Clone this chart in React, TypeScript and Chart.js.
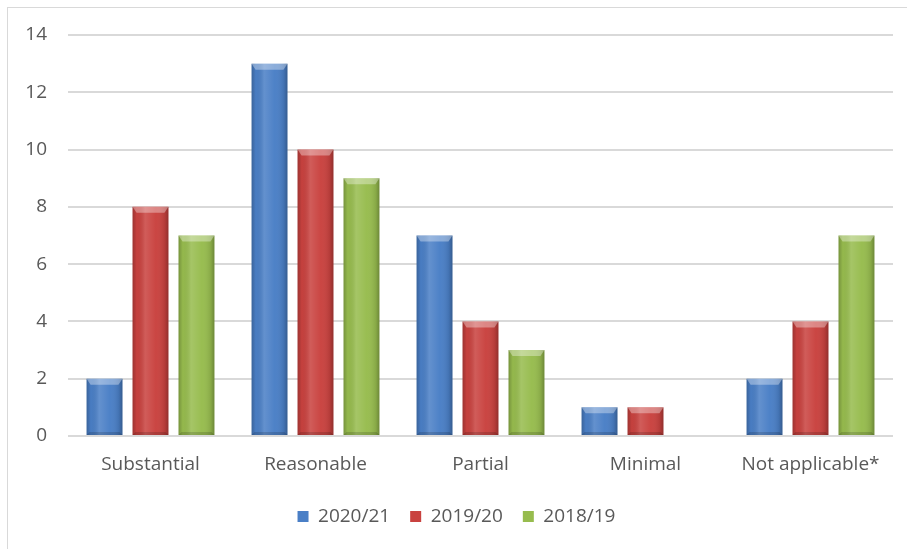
import React, { useEffect, useRef } from "react";
import { Chart, registerables } from "chart.js";

Chart.register(...registerables);

const categories = ["Substantial", "Reasonable", "Partial", "Minimal", "Not applicable*"];
const seriesNames = ["2020/21", "2019/20", "2018/19"];
const values2020 = [2, 13, 7, 1, 2];
const values2019 = [8, 10, 4, 1, 4];
const values2018 = [7, 9, 3, 0, 7];
const yTicks = [0, 2, 4, 6, 8, 10, 12, 14];

const baseColors = ["#4a7fc6", "#c9423f", "#97bc4e"];
const FONT = "'Open Sans', 'Liberation Sans', sans-serif";
const TEXT = "#595959";

const framePlugin = {
  id: "frame",
  beforeDraw(chart: any) {
    const ctx = chart.ctx;
    ctx.save();
    ctx.fillStyle = "#ffffff";
    ctx.fillRect(0, 0, chart.width, chart.height);
    ctx.strokeStyle = "#d9d9d9";
    ctx.lineWidth = 1;
    ctx.strokeRect(7.5, 7.5, chart.width + 20, chart.height + 20);
    ctx.restore();
  },
};

const bevelPlugin = {
  id: "bevel",
  afterDatasetsDraw(chart: any) {
    const ctx = chart.ctx;
    ctx.save();
    chart.data.datasets.forEach((_: any, di: number) => {
      const meta = chart.getDatasetMeta(di);
      meta.data.forEach((el: any) => {
        const { x, y, base, width } = el.getProps(["x", "y", "base", "width"], true);
        const h = base - y;
        if (h <= 0.5) return;
        const l = x - width / 2;
        const r = x + width / 2;
        const g = ctx.createLinearGradient(l, 0, r, 0);
        g.addColorStop(0, "rgba(0,0,0,0.22)");
        g.addColorStop(0.12, "rgba(0,0,0,0.02)");
        g.addColorStop(0.35, "rgba(255,255,255,0.14)");
        g.addColorStop(0.65, "rgba(255,255,255,0.02)");
        g.addColorStop(0.9, "rgba(0,0,0,0.10)");
        g.addColorStop(1, "rgba(0,0,0,0.28)");
        ctx.fillStyle = g;
        ctx.fillRect(l, y, width, h);
        const bh = Math.min(6, h / 2);
        ctx.beginPath();
        ctx.moveTo(l, y);
        ctx.lineTo(r, y);
        ctx.lineTo(r - 4, y + bh);
        ctx.lineTo(l + 4, y + bh);
        ctx.closePath();
        ctx.fillStyle = "rgba(255,255,255,0.35)";
        ctx.fill();
        ctx.beginPath();
        ctx.moveTo(l, base);
        ctx.lineTo(r, base);
        ctx.lineTo(r - 3, base - 3);
        ctx.lineTo(l + 3, base - 3);
        ctx.closePath();
        ctx.fillStyle = "rgba(0,0,0,0.15)";
        ctx.fill();
      });
    });
    ctx.restore();
  },
};

export default function App() {
  const ref = useRef<HTMLCanvasElement>(null);
  useEffect(() => {
    document.body.style.margin = "0";
    const chart = new Chart(ref.current!, {
      type: "bar",
      data: {
        labels: categories,
        datasets: [values2020, values2019, values2018].map((d, i) => ({
          label: seriesNames[i],
          data: d,
          backgroundColor: baseColors[i],
          borderWidth: 0,
          barPercentage: 0.78,
          categoryPercentage: 0.836,
        })),
      },
      options: {
        animation: false,
        responsive: false,
        maintainAspectRatio: false,
        layout: { padding: { left: 20, right: 14, top: 35, bottom: 13 } },
        plugins: {
          tooltip: { enabled: false },
          legend: {
            position: "bottom",
            labels: {
              boxWidth: 11,
              boxHeight: 11,
              padding: 20,
              color: TEXT,
              font: { family: FONT, size: 19 },
            },
          },
        },
        scales: {
          x: {
            grid: { display: false, drawTicks: false },
            border: { display: false },
            ticks: { color: TEXT, font: { family: FONT, size: 19 }, padding: 17, maxRotation: 0 },
            afterFit(scale: any) {
              scale.height = 51;
            },
          },
          y: {
            min: 0,
            max: 14,
            afterBuildTicks(scale: any) {
              scale.ticks = yTicks.map((v) => ({ value: v }));
            },
            grid: { color: "#d9d9d9", lineWidth: 2, drawTicks: false },
            border: { display: false },
            ticks: { color: TEXT, font: { family: FONT, size: 19 }, padding: 21 },
            afterFit(scale: any) {
              scale.width = 48;
            },
          },
        },
      },
      plugins: [framePlugin, bevelPlugin],
    });
    return () => chart.destroy();
  }, []);
  return <canvas ref={ref} width={907} height={549} style={{ display: "block" }} />;
}
